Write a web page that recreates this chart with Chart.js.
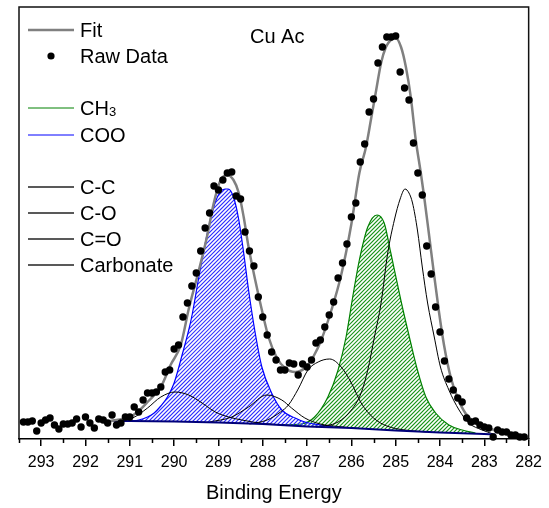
<!DOCTYPE html>
<html>
<head>
  <meta charset="UTF-8">
  <title>Cu Ac - C 1s</title>
  <script src="https://cdn.jsdelivr.net/npm/chart.js"></script>
  <style>
    body { margin: 0; background: #fff; }
    canvas { display: block; }
  </style>
</head>
<body>
  <canvas id="xps" width="549" height="508"></canvas>

  <script>
    // raw spectrum: binding energy (eV) and intensity (arb. units)
    const rawEnergy = [
      293.4, 293.3, 293.2, 293.1, 293.0, 292.9, 292.8, 292.7, 292.6, 292.5,
      292.4, 292.3, 292.2, 292.1, 292.0, 291.9, 291.8, 291.7, 291.6, 291.5,
      291.4, 291.3, 291.2, 291.1, 291.0, 290.9, 290.8, 290.7, 290.6, 290.5,
      290.4, 290.3, 290.2, 290.1, 290.0, 289.9, 289.8, 289.7, 289.6, 289.5,
      289.4, 289.3, 289.2, 289.1, 289.0, 288.9, 288.8, 288.7, 288.6, 288.5,
      288.4, 288.3, 288.2, 288.1, 288.0, 287.9, 287.8, 287.7, 287.6, 287.5,
      287.4, 287.3, 287.2, 287.1, 287.0, 286.9, 286.8, 286.7, 286.6, 286.5,
      286.4, 286.3, 286.2, 286.1, 286.0, 285.9, 285.8, 285.7, 285.6, 285.5,
      285.4, 285.3, 285.2, 285.1, 285.0, 284.9, 284.8, 284.7, 284.6, 284.5,
      284.4, 284.3, 284.2, 284.1, 284.0, 283.9, 283.8, 283.7, 283.6, 283.5,
      283.4, 283.3, 283.2, 283.1, 283.0, 282.9, 282.8, 282.7, 282.6, 282.5,
      282.4, 282.3, 282.2, 282.1
    ];
    const rawCounts = [
      17, 17, 18, 8, 16, 19, 21, 14, 10, 15,
      15, 16, 20, 12, 22, 16, 11, 20, 19, 16,
      24, 14, 16, 22, 22, 32, 27, 39, 46, 46,
      47, 52, 67, 69, 90, 94, 122, 136, 153, 166,
      188, 211, 226, 253, 249, 259, 266, 267, 243, 240,
      207, 188, 173, 142, 122, 104, 87, 79, 69, 69,
      76, 75, 64, 75, 72, 79, 96, 99, 112, 124,
      137, 161, 176, 195, 222, 236, 277, 295, 327, 340,
      376, 392, 402, 402, 403, 367, 351, 339, 296, 266,
      244, 193, 165, 132, 107, 78, 60, 49, 41, 37,
      21, 17, 18, 14, 12, 11, 2, 9, 7, 7,
      4, 4, 2, 2
    ];

    // envelope of the fit
    const fitEnergy = [291.6, 291.3, 291.0, 290.8, 290.6, 290.3, 290.08, 289.85, 289.67, 289.44,
      289.26, 289.11, 288.96, 288.81, 288.66, 288.54, 288.43, 288.32, 288.17, 288.02,
      287.87, 287.69, 287.5, 287.27, 287.05, 286.85, 286.68, 286.45, 286.23, 286.0,
      285.82, 285.67, 285.56, 285.44, 285.33, 285.22, 285.11, 285.0, 284.88, 284.77,
      284.66, 284.55, 284.43, 284.36, 284.25, 284.13, 284.02, 283.91, 283.76, 283.61,
      283.43, 283.2, 282.9, 282.68];
    const fitCounts = [17, 19, 22, 28, 37, 52, 74, 94, 130, 169,
      202, 235, 258, 264, 259, 246, 222, 192, 159, 129,
      102, 82, 71, 67, 71, 83, 99, 129, 164, 215,
      266, 292, 319, 349, 376, 392, 399, 401, 392, 372,
      342, 300, 265, 243, 205, 163, 126, 94, 62, 42,
      26, 16, 11, 7];

    // background
    const bgEnergy = [291.5, 291.0, 290.0, 289.0, 288.0, 287.4, 287.0, 286.0, 285.0, 284.0, 283.0, 282.75];
    const bgCounts = [18, 18, 17.5, 16.5, 15, 13.5, 12.5, 11, 8.5, 6.5, 5, 4.5];

    // components
    const cooEnergy = [291.0, 290.8, 290.6, 290.45, 290.3, 290.15, 290.0, 289.82, 289.67, 289.59,
      289.45, 289.37, 289.22, 289.07, 288.96, 288.85, 288.78, 288.66, 288.54, 288.43,
      288.32, 288.17, 288.02, 287.8, 287.57, 287.27, 287.05, 286.7, 286.4];
    const cooCounts = [18, 19, 22, 26, 33, 42, 56, 84, 109, 125,
      160, 179, 212, 237, 247, 250, 250, 242, 219, 186,
      149, 106, 72, 46, 29, 21, 17, 14, 12];

    const ch3Energy = [287.6, 287.13, 286.83, 286.53, 286.3, 286.12, 285.97, 285.82, 285.63, 285.42,
      285.26, 285.11, 284.88, 284.66, 284.51, 284.32, 284.1, 283.8, 283.5, 283.2];
    const ch3Counts = [14, 15, 22, 42, 69, 102, 142, 179, 212, 224,
      216, 186, 138, 96, 69, 42, 26, 14, 9, 6];

    const ccEnergy = [286.8, 286.3, 286.0, 285.78, 285.63, 285.48, 285.33, 285.18, 285.03, 284.9,
      284.79, 284.7, 284.62, 284.51, 284.4, 284.28, 284.13, 283.99, 283.8, 283.57,
      283.35, 283.05, 282.8];
    const ccCounts = [12, 17, 29, 46, 69, 102, 136, 186, 219, 240,
      250, 246, 236, 209, 172, 136, 102, 72, 49, 29,
      16, 9, 5];

    const coEnergy = [288.3, 287.9, 287.6, 287.42, 287.2, 286.98, 286.75, 286.49, 286.23, 286.0,
      285.78, 285.5, 285.2, 284.8, 284.3];
    const coCounts = [15, 19, 27, 34, 50, 69, 77, 80, 72, 56,
      36, 21, 13, 9, 7];

    const c2oEnergy = [289.2, 288.7, 288.32, 287.91, 287.57, 287.35, 287.05, 286.7, 286.3, 285.8];
    const c2oCounts = [17, 22, 32, 44, 39, 31, 21, 15, 12.5, 10.5];

    const carbEnergy = [291.4, 290.94, 290.6, 290.3, 289.98, 289.67, 289.37, 289.07, 288.77, 288.47, 288.0, 287.5];
    const carbCounts = [18, 21, 31, 42, 47, 44, 36, 27, 22, 19, 15.5, 14];

    const majorTicks = [293, 292, 291, 290, 289, 288, 287, 286, 285, 284, 283, 282];
    const minorTicks = [293.5, 292.5, 291.5, 290.5, 289.5, 288.5, 287.5, 286.5, 285.5, 284.5, 283.5, 282.5];

    const FONT = '"Liberation Sans", Arial, sans-serif';
    const pts = (es, vs) => es.map((e, i) => ({ x: e, y: vs[i] }));

    // "////" hatching between a component line and the background line
    const hatchPlugin = {
      id: 'hatch',
      beforeDatasetDraw(chart, args) {
        const ds = chart.data.datasets[args.index];
        if (!ds.hatch) return;
        const a = chart.chartArea;
        const line = args.meta.dataset;
        const bg = chart.getDatasetMeta(0).dataset;
        line.updateControlPoints(a, 'x');
        const p = line.points, q = bg.points;
        const ctx = chart.ctx;
        ctx.save();
        ctx.beginPath();
        line.path(ctx);
        ctx.lineTo(p[p.length - 1].x, a.bottom + 10);
        ctx.lineTo(p[0].x, a.bottom + 10);
        ctx.closePath();
        ctx.clip();
        ctx.beginPath();
        ctx.moveTo(q[0].x, q[0].y);
        for (let i = 1; i < q.length; i++) ctx.lineTo(q[i].x, q[i].y);
        ctx.lineTo(q[q.length - 1].x, a.top);
        ctx.lineTo(q[0].x, a.top);
        ctx.closePath();
        ctx.clip();
        ctx.strokeStyle = ds.hatch;
        ctx.lineWidth = 1.2;
        ctx.beginPath();
        const h = a.bottom - a.top;
        for (let k = a.left - h; k < a.right; k += 4) {
          ctx.moveTo(k, a.bottom);
          ctx.lineTo(k + h, a.top);
        }
        ctx.stroke();
        ctx.restore();
      }
    };

    const legendRows = [
      { label: 'Fit', color: '#808080', width: 2.5, dy: 23 },
      { label: 'Raw Data', dot: true, dy: 49 },
      { label: 'CH', sub: '3', color: '#008000', width: 1, dy: 101 },
      { label: 'COO', color: '#0000ff', width: 1, dy: 128 },
      { label: 'C-C', color: '#222', width: 1.3, dy: 180 },
      { label: 'C-O', color: '#222', width: 1.3, dy: 206 },
      { label: 'C=O', color: '#222', width: 1.3, dy: 232 },
      { label: 'Carbonate', color: '#222', width: 1.3, dy: 258 }
    ];

    const decor = {
      id: 'decor',
      afterDraw(chart) {
        const ctx = chart.ctx;
        const a = chart.chartArea;
        const x = chart.scales.x;
        ctx.save();
        // frame
        ctx.strokeStyle = '#111';
        ctx.lineWidth = 1.5;
        ctx.beginPath();
        ctx.moveTo(a.left, a.bottom);
        ctx.lineTo(a.left, a.top);
        ctx.lineTo(a.right, a.top);
        ctx.lineTo(a.right, a.bottom);
        ctx.stroke();
        // minor ticks
        ctx.strokeStyle = '#000';
        ctx.beginPath();
        minorTicks.forEach(v => {
          const px = Math.round(x.getPixelForValue(v)) + 0.5;
          ctx.moveTo(px, a.bottom);
          ctx.lineTo(px, a.bottom + 4);
        });
        ctx.stroke();
        // legend
        ctx.fillStyle = '#000';
        ctx.textBaseline = 'alphabetic';
        legendRows.forEach(r => {
          const y = a.top + r.dy;
          if (r.dot) {
            ctx.beginPath();
            ctx.arc(a.left + 32, y, 3.6, 0, Math.PI * 2);
            ctx.fill();
          } else {
            ctx.strokeStyle = r.color;
            ctx.lineWidth = r.width;
            ctx.beginPath();
            ctx.moveTo(a.left + 9, y);
            ctx.lineTo(a.left + 55, y);
            ctx.stroke();
          }
          ctx.font = '20px ' + FONT;
          ctx.fillText(r.label, a.left + 61, y + 7);
          if (r.sub) {
            const w = ctx.measureText(r.label).width;
            ctx.font = '13px ' + FONT;
            ctx.fillText(r.sub, a.left + 61 + w, y + 8);
          }
        });
        ctx.font = '20px ' + FONT;
        ctx.fillText('Cu Ac', 250, 43);
        ctx.restore();
      }
    };

    new Chart(document.getElementById('xps'), {
      type: 'line',
      data: {
        datasets: [
          { label: 'Background', data: pts(bgEnergy, bgCounts), borderColor: '#00007a', borderWidth: 2,
            pointRadius: 0, order: 2 },
          { label: 'COO', data: pts(cooEnergy, cooCounts), borderColor: '#0000ff', borderWidth: 1.2,
            hatch: 'rgb(50, 50, 255)', pointRadius: 0, cubicInterpolationMode: 'monotone', order: 4 },
          { label: 'CH3', data: pts(ch3Energy, ch3Counts), borderColor: '#008000', borderWidth: 1.2,
            hatch: 'rgb(30, 150, 30)', pointRadius: 0, cubicInterpolationMode: 'monotone', order: 4 },
          { label: 'C-C', data: pts(ccEnergy, ccCounts), borderColor: '#000', borderWidth: 1,
            pointRadius: 0, cubicInterpolationMode: 'monotone', order: 3 },
          { label: 'C-O', data: pts(coEnergy, coCounts), borderColor: '#000', borderWidth: 1,
            pointRadius: 0, cubicInterpolationMode: 'monotone', order: 3 },
          { label: 'C=O', data: pts(c2oEnergy, c2oCounts), borderColor: '#000', borderWidth: 1,
            pointRadius: 0, cubicInterpolationMode: 'monotone', order: 3 },
          { label: 'Carbonate', data: pts(carbEnergy, carbCounts), borderColor: '#000', borderWidth: 1,
            pointRadius: 0, cubicInterpolationMode: 'monotone', order: 3 },
          { label: 'Fit', data: pts(fitEnergy, fitCounts), borderColor: '#808080', borderWidth: 2.5,
            pointRadius: 0, cubicInterpolationMode: 'monotone', order: 1 },
          { label: 'Raw Data', data: pts(rawEnergy, rawCounts), showLine: false, pointRadius: 3.7,
            pointBackgroundColor: '#000', pointBorderWidth: 0, borderColor: '#000', clip: false, order: 0 }
        ]
      },
      options: {
        responsive: false,
        animation: false,
        devicePixelRatio: 1,
        layout: { padding: { left: 19, right: 16, top: 7, bottom: 0 } },
        plugins: { legend: { display: false }, tooltip: { enabled: false } },
        scales: {
          x: {
            type: 'linear', reverse: true, min: 282, max: 293.5,
            afterBuildTicks: s => { s.ticks = majorTicks.map(v => ({ value: v })); },
            afterFit: s => { s.height = 69; },
            ticks: { color: '#000', font: { size: 16, family: FONT }, padding: 7, maxRotation: 0, autoSkip: false },
            grid: { display: true, drawOnChartArea: false, drawTicks: true, tickLength: 7, color: '#000', lineWidth: 1.5 },
            border: { display: true, color: '#000', width: 1.5 },
            title: { display: true, text: 'Binding Energy', color: '#000', font: { size: 20, family: FONT },
              padding: { top: 0, bottom: 3 } }
          },
          y: { display: false, min: 0, max: 432 }
        }
      },
      plugins: [hatchPlugin, decor]
    });
  </script>
</body>
</html>
